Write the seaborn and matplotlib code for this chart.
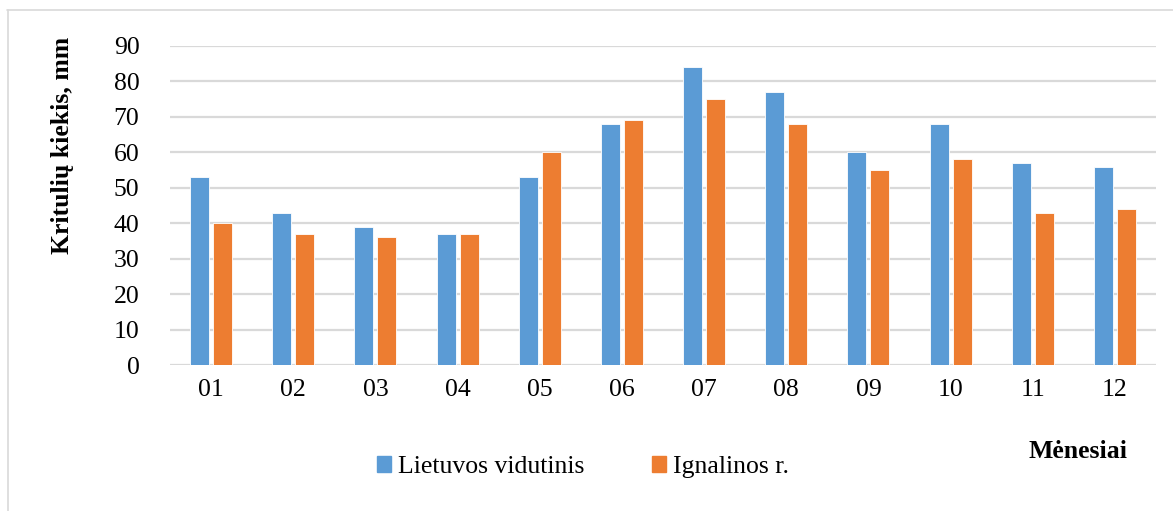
import numpy as np
import pandas as pd
import matplotlib.pyplot as plt
import seaborn as sns
from matplotlib.patches import Rectangle
from matplotlib.lines import Line2D

# Data
months = ["01", "02", "03", "04", "05", "06", "07", "08", "09", "10", "11", "12"]
lietuvos = [53, 43, 39, 37, 53, 68, 84, 77, 60, 68, 57, 56]
ignalinos = [40, 37, 36, 37, 60, 69, 75, 68, 55, 58, 43, 44]
series_names = ["Lietuvos vidutinis", "Ignalinos r."]
colors = ["#5B9BD5", "#ED7D31"]
y_ticks = list(range(0, 100, 10))

df = pd.DataFrame({
    "month": months * 2,
    "value": lietuvos + ignalinos,
    "series": [series_names[0]] * len(months) + [series_names[1]] * len(months),
})

sns.set_theme(style="white")
plt.rcParams["font.family"] = ["Liberation Serif", "DejaVu Serif"]
plt.rcParams["text.color"] = "#000000"
FS = 18.5

W, H = 1173, 511
fig = plt.figure(figsize=(W / 100, H / 100), dpi=100)
ax = fig.add_axes([170 / W, 1 - 365 / H, 986 / W, 319 / H])

sns.barplot(data=df, x="month", y="value", hue="series", palette=colors,
            saturation=1, width=0.56, gap=0.18, ax=ax, edgecolor="#ffffff",
            linewidth=0.6, legend=False)

ax.set_ylim(0, 90)
ax.set_xlim(-0.5, 11.5)
ax.set_yticks(y_ticks)
ax.yaxis.grid(True, color="#d9d9d9", linewidth=1.6)
ax.set_axisbelow(True)
for s in ax.spines.values():
    s.set_visible(False)
ax.tick_params(axis="both", length=0, labelsize=FS, colors="#000000")
ax.tick_params(axis="y", pad=22)
ax.tick_params(axis="x", pad=10)
ax.set_xlabel("")
ax.set_ylabel("")

fig.text(62 / W, 1 - 145 / H, "Kritulių kiekis, mm", fontsize=FS, fontweight="bold",
         rotation=90, ha="center", va="center", color="#000000")
fig.text(1078 / W, 1 - 452 / H, "Mėnesiai", fontsize=FS, fontweight="bold",
         ha="center", va="center", color="#000000")

handles = [Rectangle((0, 0), 1, 1, color=c) for c in colors]
fig.legend(handles, series_names, loc="center", bbox_to_anchor=(583 / W, 1 - 467 / H),
           ncol=2, frameon=False, fontsize=FS, handlelength=0.55, handleheight=0.55,
           handletextpad=0.3, columnspacing=2.6, borderpad=0, borderaxespad=0,
           labelcolor="#000000")

# outer chart frame (top and left edges visible)
fig.lines.append(Line2D([7 / W, 1], [1 - 10 / H, 1 - 10 / H], transform=fig.transFigure,
                        color="#d9d9d9", linewidth=1.2))
fig.lines.append(Line2D([8 / W, 8 / W], [0, 1 - 10 / H], transform=fig.transFigure,
                        color="#d9d9d9", linewidth=1.2))

fig.savefig("out.png", dpi=100, facecolor="white")
